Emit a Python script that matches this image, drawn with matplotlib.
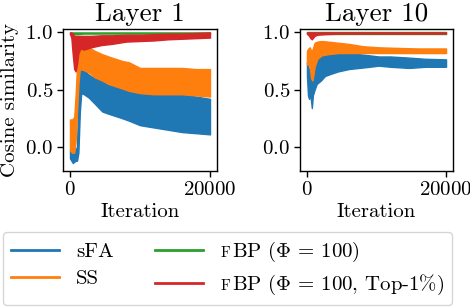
import matplotlib
matplotlib.use("Agg")
import matplotlib.pyplot as plt
from matplotlib.lines import Line2D
from matplotlib.text import Text

plt.rcParams['font.family'] = ['cmr10', 'DejaVu Serif']
plt.rcParams['mathtext.fontset'] = 'cm'
plt.rcParams['axes.formatter.use_mathtext'] = True
plt.rcParams['axes.unicode_minus'] = False

# ---------------- data ----------------
# legend labels; "smallcaps" holds the small-capital prefix drawn before the label
labels = ["sFA", "SS", " $\\;$BP ($\\Phi\\,=\\,100$)", " $\\;$BP ($\\Phi\\,=\\,100$, Top-1%)"]
smallcaps = ["", "", "F", "F"]
colors = ["#1f77b4", "#ff7f0e", "#2ca02c", "#d62728"]
titles = ["Layer 1", "Layer 10"]
xticks = [0, 20000]
yticks = [0.0, 0.5, 1.0]

# Layer 1 -- sFA envelope
l1_sfa_it = [0, 400, 800, 1000, 1200, 1400, 1600, 2000, 2700, 3500, 4600, 5500, 6500, 7500, 8400,
             10000, 12000, 14000, 16000, 18000, 20000]
l1_sfa_hi = [-0.02, -0.03, -0.02, 0.00, 0.45, 0.68, 0.68, 0.67, 0.63, 0.60, 0.58, 0.55, 0.53, 0.52, 0.52,
             0.47, 0.46, 0.46, 0.46, 0.44, 0.42]
l1_sfa_lo = [-0.10, -0.14, -0.12, -0.12, -0.05, 0.30, 0.47, 0.46, 0.43, 0.38, 0.31, 0.29, 0.27, 0.25, 0.23,
             0.19, 0.17, 0.15, 0.13, 0.12, 0.11]
# Layer 1 -- SS envelope
l1_ss_it = [0, 300, 600, 800, 1000, 1200, 1400, 2000, 2700, 3500, 4600, 5500, 6500, 7500, 8400,
            10000, 12000, 14000, 16000, 18000, 20000]
l1_ss_hi = [0.24, 0.24, 0.26, 0.45, 0.70, 0.85, 0.90, 0.89, 0.87, 0.84, 0.81, 0.79, 0.77, 0.75, 0.74,
            0.69, 0.69, 0.69, 0.69, 0.68, 0.68]
l1_ss_lo = [-0.03, -0.05, -0.05, 0.05, 0.30, 0.55, 0.68, 0.67, 0.65, 0.61, 0.58, 0.55, 0.53, 0.51, 0.49,
            0.47, 0.46, 0.46, 0.46, 0.45, 0.44]
# Layer 1 -- fBP (Phi=100)
l1_fbp_it = [0, 1000, 2000, 5000, 10000, 15000, 20000]
l1_fbp_hi = [1.00, 1.00, 1.00, 1.00, 1.00, 1.00, 1.00]
l1_fbp_lo = [0.985, 0.985, 0.99, 0.99, 0.99, 0.99, 0.99]
# Layer 1 -- fBP (Phi=100, Top-1%)
l1_top_it = [0, 200, 400, 600, 800, 1000, 1200, 1500, 2000, 3000, 4500, 6000, 8000,
             10000, 12000, 14000, 16000, 18000, 20000]
l1_top_hi = [1.00, 1.00, 0.99, 0.97, 0.97, 0.97, 0.97, 0.97, 0.97, 0.97, 0.975, 0.975, 0.98,
             0.98, 0.985, 0.99, 0.99, 0.995, 1.00]
l1_top_lo = [0.99, 0.95, 0.80, 0.68, 0.66, 0.72, 0.82, 0.86, 0.85, 0.87, 0.89, 0.90, 0.92,
             0.925, 0.93, 0.94, 0.945, 0.95, 0.955]

# Layer 10 -- sFA envelope
l10_sfa_it = [0, 150, 300, 500, 700, 850, 1100, 1400, 1600, 2000, 2600, 3500, 4500, 6000, 7500,
              9000, 10300, 12000, 14700, 17000, 20000]
l10_sfa_hi = [0.74, 0.70, 0.68, 0.66, 0.60, 0.68, 0.76, 0.78, 0.79, 0.80, 0.81, 0.82, 0.82, 0.81, 0.81,
              0.80, 0.79, 0.79, 0.78, 0.77, 0.765]
l10_sfa_lo = [0.62, 0.45, 0.42, 0.45, 0.34, 0.45, 0.50, 0.55, 0.56, 0.58, 0.62, 0.64, 0.66, 0.68, 0.69,
              0.70, 0.71, 0.70, 0.69, 0.70, 0.70]
# Layer 10 -- SS envelope
l10_ss_it = [0, 200, 400, 600, 800, 1100, 1500, 2100, 3000, 4500, 6000, 8000, 10300, 13000, 16000, 20000]
l10_ss_hi = [0.84, 0.86, 0.87, 0.84, 0.85, 0.91, 0.92, 0.925, 0.92, 0.91, 0.90, 0.88, 0.87, 0.865, 0.86, 0.86]
l10_ss_lo = [0.72, 0.72, 0.70, 0.60, 0.58, 0.70, 0.77, 0.80, 0.81, 0.82, 0.82, 0.82, 0.82, 0.82, 0.82, 0.82]
# Layer 10 -- fBP (Phi=100)
l10_fbp_it = [0, 1000, 5000, 10000, 20000]
l10_fbp_hi = [1.00, 1.00, 1.00, 1.00, 1.00]
l10_fbp_lo = [0.99, 0.99, 0.99, 0.99, 0.99]
# Layer 10 -- fBP (Phi=100, Top-1%)
l10_top_it = [0, 300, 500, 700, 900, 1100, 1500, 2500, 5000, 10000, 20000]
l10_top_hi = [1.00, 1.00, 1.00, 1.00, 1.00, 1.00, 1.00, 1.00, 1.00, 1.00, 1.00]
l10_top_lo = [0.99, 0.97, 0.95, 0.94, 0.955, 0.97, 0.98, 0.985, 0.99, 0.99, 0.99]

panels = [
    [(l1_sfa_it, l1_sfa_lo, l1_sfa_hi), (l1_ss_it, l1_ss_lo, l1_ss_hi),
     (l1_fbp_it, l1_fbp_lo, l1_fbp_hi), (l1_top_it, l1_top_lo, l1_top_hi)],
    [(l10_sfa_it, l10_sfa_lo, l10_sfa_hi), (l10_ss_it, l10_ss_lo, l10_ss_hi),
     (l10_fbp_it, l10_fbp_lo, l10_fbp_hi), (l10_top_it, l10_top_lo, l10_top_hi)],
]


class SmallCapHandler:
    """Draws the legend line and, right where the label starts, a small capital prefix."""

    def __init__(self, prefix):
        self.prefix = prefix

    def legend_artist(self, legend, orig_handle, fontsize, handlebox):
        w, h = handlebox.width, handlebox.height
        line = Line2D([0, w], [h / 2, h / 2], color=orig_handle.get_color(),
                      lw=orig_handle.get_linewidth())
        handlebox.add_artist(line)
        if self.prefix:
            t = Text(w + legend.handletextpad * fontsize + 0.3, 0, self.prefix,
                     fontsize=fontsize * 0.72, va='baseline', ha='left', color='black')
            handlebox.add_artist(t)
        return line


# ---------------- figure ----------------
fig = plt.figure(figsize=(4.70, 3.08), dpi=100)
ax_rects = [[63/470, 1-171/308, 154/470, 142/308],
            [300/470, 1-171/308, 153/470, 142/308]]

for k, (rect, series) in enumerate(zip(ax_rects, panels)):
    ax = fig.add_axes(rect)
    for (it, lo, hi), c in zip(series, colors):
        ax.fill_between(it, lo, hi, color=c, linewidth=1.0, edgecolor=c)
    ax.set_xlim(-1000, 21000)
    ax.set_ylim(-0.21, 1.03)
    ax.set_xticks(xticks)
    ax.set_yticks(yticks)
    ax.tick_params(labelsize=15, width=1.0, length=4, pad=3)
    for s in ax.spines.values():
        s.set_linewidth(1.0)
    ax.set_title(titles[k], fontsize=19.5, pad=6)
    ax.set_xlabel("Iteration", fontsize=15, labelpad=3)
    if k == 0:
        ax.set_ylabel("Cosine similarity", fontsize=15)
        ax.yaxis.set_label_coords(-0.285, 0.5)

handles = [Line2D([0], [0], color=c, lw=2) for c in colors]
handler_map = {h: SmallCapHandler(p) for h, p in zip(handles, smallcaps)}
fig.legend(handles, labels, ncol=2, loc="upper left",
           bbox_to_anchor=(3/470, 1-232/308), fontsize=15, labelspacing=0.4,
           borderaxespad=0.0, handlelength=2.3, handler_map=handler_map)

fig.savefig("out.png", dpi=100)
